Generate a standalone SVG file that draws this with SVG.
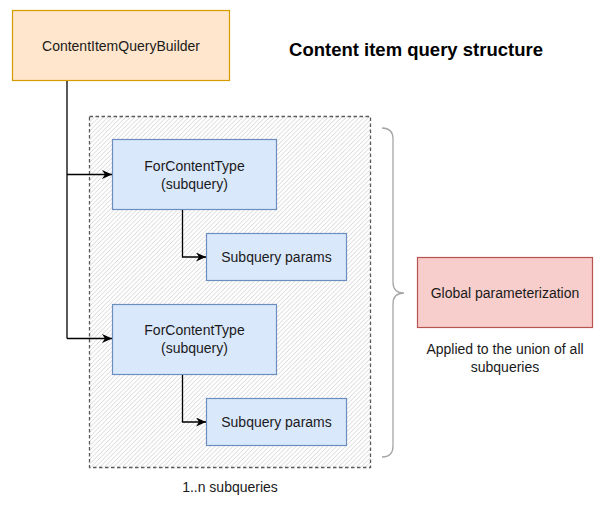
<svg xmlns="http://www.w3.org/2000/svg" width="605" height="506" viewBox="0 0 605 506">
<style>
text{font-family:"Liberation Sans",Arial,sans-serif;font-size:14px;fill:#1a1a1a;text-anchor:middle}
.title{font-size:18.5px;font-weight:bold;fill:#000}
.blue{fill:#dae8fc;stroke:#6c8ebf;stroke-width:1.2}
.orange{fill:#ffe6cc;stroke:#d79b00;stroke-width:1.2}
.red{fill:#f8cecc;stroke:#b85450;stroke-width:1.2}
.edge{fill:none;stroke:#000;stroke-width:1.3}
</style>
<defs>
<pattern id="hatch" patternUnits="userSpaceOnUse" width="4.5" height="4.5">
<path d="M-1,1 L1,-1 M0,4.5 L4.5,0 M3.5,5.5 L5.5,3.5" stroke="#c4c4c4" stroke-width="0.7"/>
</pattern>
<marker id="arr" viewBox="0 0 10 10" refX="10" refY="5" markerWidth="10" markerHeight="9" markerUnits="userSpaceOnUse" orient="auto" preserveAspectRatio="none">
<path d="M0,0 L10,5 L0,10 L3,5 Z" fill="#000"/>
</marker>
</defs>
<rect width="605" height="506" fill="#fff"/>
<g id="container">
<rect x="89.5" y="116.5" width="281" height="351" fill="url(#hatch)" stroke="#5a5a5a" stroke-width="1.3" stroke-dasharray="3.5 2.5"/>
<text x="230" y="492">1..n subqueries</text>
</g>
<g id="title"><text class="title" x="416" y="56">Content item query structure</text></g>
<g id="builder">
<rect class="orange" x="12.5" y="10.5" width="217" height="70"/>
<text x="121" y="50.5">ContentItemQueryBuilder</text>
</g>
<g id="fct1">
<rect class="blue" x="112.5" y="139.5" width="164" height="70"/>
<text x="194.5" y="171">ForContentType</text>
<text x="194.5" y="189">(subquery)</text>
</g>
<g id="params1">
<rect class="blue" x="206.5" y="233.5" width="140" height="47"/>
<text x="276.5" y="262">Subquery params</text>
</g>
<g id="fct2">
<rect class="blue" x="112.5" y="304.5" width="164" height="70"/>
<text x="194.5" y="335">ForContentType</text>
<text x="194.5" y="353">(subquery)</text>
</g>
<g id="params2">
<rect class="blue" x="206.5" y="398.5" width="140" height="47"/>
<text x="276.5" y="426.5">Subquery params</text>
</g>
<g id="brace">
<path d="M382,128 Q393,128 393,139 L393,282 Q393,293 404,293 Q393,293 393,304 L393,446 Q393,457 382,457" fill="none" stroke="#a6a6a6" stroke-width="1.3"/>
</g>
<g id="global">
<rect class="red" x="417.5" y="257.5" width="175" height="70"/>
<text x="505" y="297.5">Global parameterization</text>
<text x="505" y="354">Applied to the union of all</text>
<text x="505" y="372">subqueries</text>
</g>
<g id="connectors">
<path class="edge" d="M67,81 L67,338.5"/>
<path class="edge" d="M67,174.5 L112,174.5" marker-end="url(#arr)"/>
<path class="edge" d="M67,338.5 L112,338.5" marker-end="url(#arr)"/>
<path class="edge" d="M182.5,210 L182.5,257 L206,257" marker-end="url(#arr)"/>
<path class="edge" d="M182.5,375 L182.5,422 L206,422" marker-end="url(#arr)"/>
</g>
</svg>
